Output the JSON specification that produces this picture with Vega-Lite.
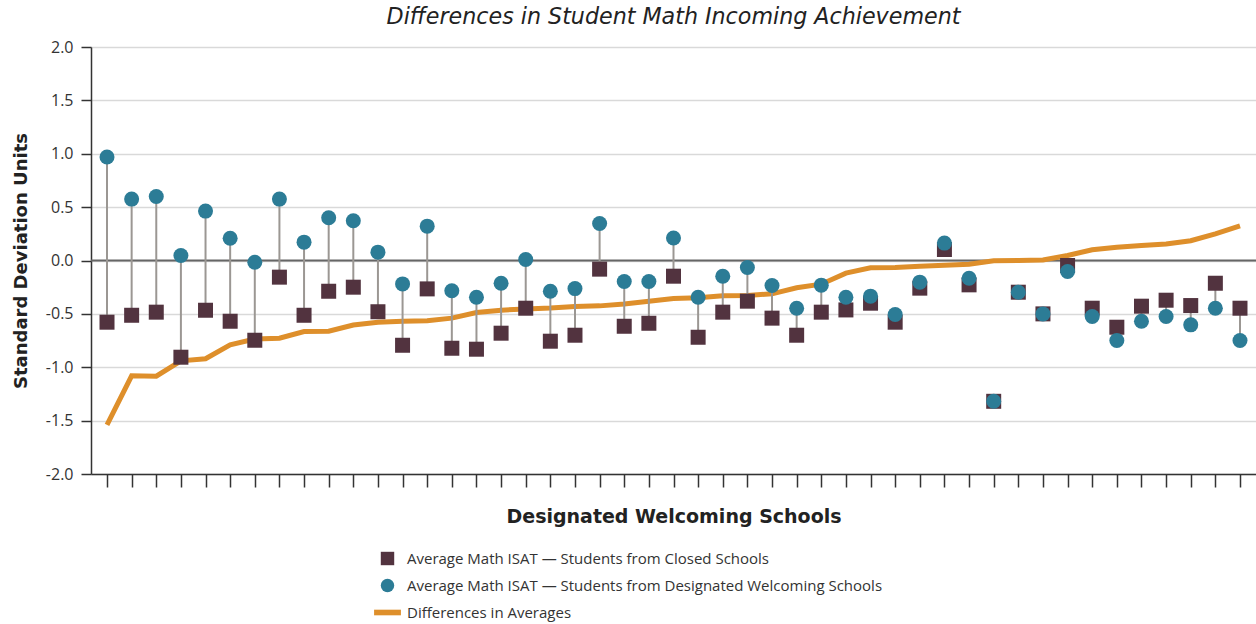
{
  "$schema": "https://vega.github.io/schema/vega-lite/v6.json",
  "width": 1165,
  "height": 427,
  "autosize": {"type": "none"},
  "padding": {"left": 91, "top": 47, "right": 0, "bottom": 150},
  "background": "white",
  "config": {"view": {"stroke": null}, "font": "Open Sans"},
  "title": {
    "text": "Differences in Student Math Incoming Achievement",
    "font": "DejaVu Sans",
    "fontStyle": "italic",
    "fontSize": 22.2,
    "fontWeight": "normal",
    "color": "#222222",
    "anchor": "middle",
    "offset": 11
  },
  "data": {
    "values": [
      {"school": 1, "closed": -0.578, "welcoming": 0.969, "diff": -1.54},
      {"school": 2, "closed": -0.513, "welcoming": 0.575, "diff": -1.08},
      {"school": 3, "closed": -0.484, "welcoming": 0.6, "diff": -1.084},
      {"school": 4, "closed": -0.906, "welcoming": 0.047, "diff": -0.94},
      {"school": 5, "closed": -0.466, "welcoming": 0.463, "diff": -0.92},
      {"school": 6, "closed": -0.569, "welcoming": 0.209, "diff": -0.79},
      {"school": 7, "closed": -0.747, "welcoming": -0.016, "diff": -0.735},
      {"school": 8, "closed": -0.156, "welcoming": 0.575, "diff": -0.728},
      {"school": 9, "closed": -0.513, "welcoming": 0.172, "diff": -0.665},
      {"school": 10, "closed": -0.288, "welcoming": 0.4, "diff": -0.663},
      {"school": 11, "closed": -0.25, "welcoming": 0.372, "diff": -0.605},
      {"school": 12, "closed": -0.48, "welcoming": 0.078, "diff": -0.578},
      {"school": 13, "closed": -0.794, "welcoming": -0.219, "diff": -0.569},
      {"school": 14, "closed": -0.266, "welcoming": 0.322, "diff": -0.565},
      {"school": 15, "closed": -0.822, "welcoming": -0.284, "diff": -0.54},
      {"school": 16, "closed": -0.831, "welcoming": -0.344, "diff": -0.487},
      {"school": 17, "closed": -0.681, "welcoming": -0.213, "diff": -0.465},
      {"school": 18, "closed": -0.447, "welcoming": 0.009, "diff": -0.455},
      {"school": 19, "closed": -0.756, "welcoming": -0.288, "diff": -0.446},
      {"school": 20, "closed": -0.7, "welcoming": -0.263, "diff": -0.43},
      {"school": 21, "closed": -0.081, "welcoming": 0.347, "diff": -0.425},
      {"school": 22, "closed": -0.616, "welcoming": -0.197, "diff": -0.408},
      {"school": 23, "closed": -0.588, "welcoming": -0.197, "diff": -0.382},
      {"school": 24, "closed": -0.147, "welcoming": 0.211, "diff": -0.355},
      {"school": 25, "closed": -0.719, "welcoming": -0.344, "diff": -0.35},
      {"school": 26, "closed": -0.484, "welcoming": -0.147, "diff": -0.33},
      {"school": 27, "closed": -0.381, "welcoming": -0.066, "diff": -0.328},
      {"school": 28, "closed": -0.54, "welcoming": -0.234, "diff": -0.312},
      {"school": 29, "closed": -0.7, "welcoming": -0.447, "diff": -0.255},
      {"school": 30, "closed": -0.484, "welcoming": -0.231, "diff": -0.222},
      {"school": 31, "closed": -0.463, "welcoming": -0.344, "diff": -0.118},
      {"school": 32, "closed": -0.4, "welcoming": -0.334, "diff": -0.068},
      {"school": 33, "closed": -0.578, "welcoming": -0.506, "diff": -0.065},
      {"school": 34, "closed": -0.259, "welcoming": -0.203, "diff": -0.055},
      {"school": 35, "closed": 0.103, "welcoming": 0.163, "diff": -0.045},
      {"school": 36, "closed": -0.228, "welcoming": -0.166, "diff": -0.035},
      {"school": 37, "closed": -1.319, "welcoming": -1.319, "diff": -0.003},
      {"school": 38, "closed": -0.297, "welcoming": -0.297, "diff": 0.0},
      {"school": 39, "closed": -0.5, "welcoming": -0.5, "diff": 0.005},
      {"school": 40, "closed": -0.047, "welcoming": -0.103, "diff": 0.047},
      {"school": 41, "closed": -0.447, "welcoming": -0.525, "diff": 0.1},
      {"school": 42, "closed": -0.625, "welcoming": -0.75, "diff": 0.125},
      {"school": 43, "closed": -0.428, "welcoming": -0.569, "diff": 0.14},
      {"school": 44, "closed": -0.372, "welcoming": -0.525, "diff": 0.155},
      {"school": 45, "closed": -0.422, "welcoming": -0.603, "diff": 0.185},
      {"school": 46, "closed": -0.213, "welcoming": -0.447, "diff": 0.25},
      {"school": 47, "closed": -0.447, "welcoming": -0.75, "diff": 0.325}
    ]
  },
  "layer": [
    {
      "data": {"values": [{}]},
      "mark": {"type": "rule", "color": "#666666", "strokeWidth": 2},
      "encoding": {"y": {"datum": 0, "type": "quantitative"}}
    },
    {
      "mark": {"type": "line", "color": "#de8f2b", "strokeWidth": 5},
      "encoding": {
        "x": {
          "field": "school",
          "type": "ordinal",
          "scale": {"type": "point", "padding": 0.65},
          "axis": {
            "title": "Designated Welcoming Schools",
            "labels": false,
            "ticks": true,
            "tickSize": 13,
            "tickColor": "#333333",
            "tickWidth": 1.5,
            "domainColor": "#333333",
            "domainWidth": 1.5,
            "grid": false,
            "titleFont": "DejaVu Sans",
            "titleFontSize": 19,
            "titleFontWeight": "bold",
            "titleColor": "#222222",
            "titlePadding": 20
          }
        },
        "y": {
          "field": "diff",
          "type": "quantitative",
          "scale": {"domain": [-2, 2], "nice": false, "zero": false},
          "axis": {
            "title": "Standard Deviation Units",
            "values": [-2, -1.5, -1, -0.5, 0, 0.5, 1, 1.5, 2],
            "labelExpr": "replace(format(datum.value, '.1f'), '\u2212', '-')",
            "labelFontSize": 16,
            "labelColor": "#333333",
            "labelPadding": 8,
            "tickSize": 10,
            "tickColor": "#333333",
            "tickWidth": 1.5,
            "domainColor": "#333333",
            "domainWidth": 1.5,
            "grid": true,
            "gridColor": "#d9d9d9",
            "gridWidth": 1.5,
            "titleFont": "DejaVu Sans",
            "titleFontSize": 18,
            "titleFontWeight": "bold",
            "titleColor": "#222222",
            "titlePadding": 15
          }
        }
      }
    },
    {
      "mark": {"type": "rule", "color": "#9b9793", "strokeWidth": 2},
      "encoding": {
        "x": {"field": "school", "type": "ordinal"},
        "y": {"field": "closed", "type": "quantitative"},
        "y2": {"field": "welcoming"}
      }
    },
    {
      "transform": [{"fold": ["closed", "welcoming"], "as": ["series", "value"]}],
      "mark": {"type": "point", "filled": true, "opacity": 1, "size": 225, "strokeWidth": 0},
      "encoding": {
        "x": {"field": "school", "type": "ordinal"},
        "y": {"field": "value", "type": "quantitative"},
        "color": {
          "field": "series",
          "type": "nominal",
          "scale": {"domain": ["closed", "welcoming", "diff"], "range": ["#52333f", "#2c7c96", "#de8f2b"]},
          "legend": {
            "title": null,
            "orient": "none",
            "legendX": 289,
            "legendY": 504,
            "direction": "vertical",
            "labelExpr": "datum.value == 'closed' ? 'Average Math ISAT \u2014 Students from Closed Schools' : datum.value == 'welcoming' ? 'Average Math ISAT \u2014 Students from Designated Welcoming Schools' : 'Differences in Averages'",
            "labelFontSize": 15,
            "labelColor": "#333333",
            "labelLimit": 600,
            "symbolSize": 180,
            "symbolStrokeWidth": 0,
            "symbolOpacity": 1,
            "rowPadding": 11,
            "labelOffset": 12
          }
        },
        "shape": {
          "field": "series",
          "type": "nominal",
          "scale": {"domain": ["closed", "welcoming", "diff"], "range": ["square", "circle", "M-2,-0.42H2V0.42H-2Z"]}
        }
      }
    }
  ]
}
